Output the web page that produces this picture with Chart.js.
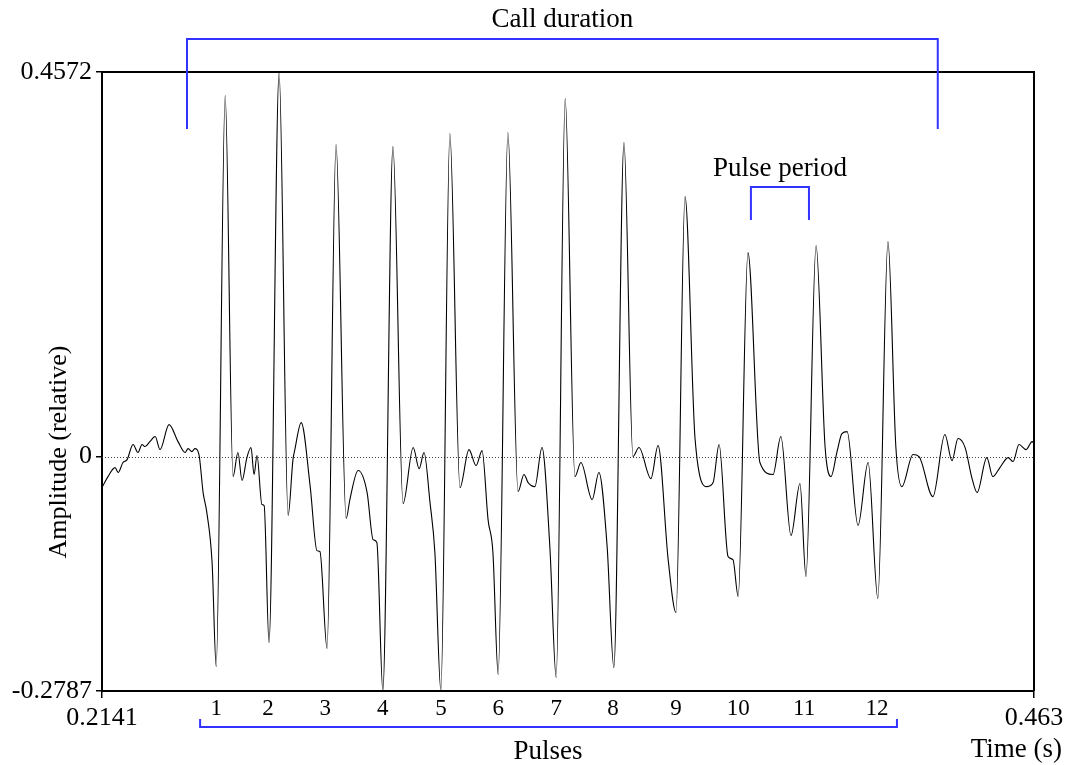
<!DOCTYPE html>
<html>
<head>
<meta charset="utf-8">
<script src="https://cdn.jsdelivr.net/npm/chart.js@4/dist/chart.umd.min.js"></script>
<style>
html,body{margin:0;padding:0;background:#fff;}
#wrap{width:1066px;height:765px;position:relative;}
</style>
</head>
<body>
<div id="wrap"><canvas id="c" width="1066" height="765"></canvas></div>
<script>
// ---- data (time in s, relative amplitude) ----
const times = [0.2142,0.2157,0.2176,0.2184,0.2197,0.2208,0.2224,0.2237,0.2248,0.2256,0.2269,0.2283,0.2296,0.2320,0.2344,0.2363,0.2371,0.2381,0.2389,0.2400,
0.2411,0.2421,0.2435,0.2446,0.2470,0.2491,0.2504,0.2515,0.2528,0.2539,0.2547,0.2555,0.2568,0.2574,0.2587,0.2614,0.2638,0.2651,0.2656,0.2673,
0.2697,0.2715,0.2723,0.2742,0.2766,0.2793,0.2803,0.2825,0.2849,0.2865,0.2875,0.2891,0.2918,0.2945,0.2972,0.2988,0.3001,0.3017,0.3030,0.3046,
0.3070,0.3097,0.3121,0.3140,0.3156,0.3172,0.3185,0.3199,0.3225,0.3252,0.3268,0.3279,0.3297,0.3316,0.3337,0.3354,0.3378,0.3404,0.3420,0.3450,
0.3468,0.3490,0.3508,0.3535,0.3559,0.3575,0.3607,0.3626,0.3653,0.3674,0.3698,0.3725,0.3757,0.3773,0.3789,0.3813,0.3826,0.3840,0.3866,0.3898,
0.3933,0.3954,0.3981,0.4005,0.4021,0.4048,0.4072,0.4088,0.4104,0.4117,0.4131,0.4160,0.4187,0.4213,0.4240,0.4261,0.4277,0.4307,0.4323,0.4360,
0.4392,0.4411,0.4427,0.4446,0.4464,0.4478,0.4504,0.4520,0.4539,0.4561,0.4574,0.4590,0.4609,0.4625,0.4630];
const amps = [-0.0360,-0.0238,-0.0131,-0.0190,-0.0071,-0.0036,0.0143,0.0048,0.0143,0.0119,0.0178,0.0238,0.0083,0.0380,0.0178,0.0048,0.0095,0.0059,0.0095,0.0024,
-0.0428,-0.0666,-0.1260,-0.2497,0.4292,-0.0238,0.0048,-0.0285,-0.0012,0.0107,-0.0214,0.0012,-0.0571,-0.0583,-0.2211,0.4565,-0.0701,-0.0036,0.0083,0.0404,
-0.0357,-0.1118,-0.1129,-0.2283,0.3709,-0.0737,-0.0511,-0.0166,-0.0428,-0.0987,-0.1022,-0.2785,0.3686,-0.0559,0.0107,-0.0143,0.0048,-0.0547,-0.1141,-0.2785,
0.3840,-0.0369,0.0083,-0.0107,0.0071,-0.0749,-0.1141,-0.2592,0.3852,-0.0416,-0.0214,-0.0309,-0.0357,0.0107,-0.1070,-0.2627,0.4256,-0.0238,-0.0071,-0.0511,
-0.0190,-0.1070,-0.2509,0.3733,0.0000,0.0107,-0.0262,0.0131,-0.1225,-0.1855,0.3091,0.0202,-0.0357,-0.0309,0.0143,-0.1189,-0.1225,-0.1664,0.2425,-0.0071,
-0.0214,0.0238,-0.0939,-0.0321,-0.1427,0.2509,0.0119,-0.0238,0.0059,0.0273,0.0297,-0.0820,-0.0071,-0.1688,0.2556,0.0119,-0.0357,0.0024,0.0000,-0.0476,
0.0262,-0.0048,0.0214,0.0107,-0.0250,-0.0428,-0.0012,-0.0238,-0.0131,-0.0012,-0.0059,0.0143,0.0083,0.0178,0.0155];

const xTickValues = [0.2141, 0.463];
const xTickLabels = ['0.2141', '0.463'];
const yTickValues = [-0.2787, 0, 0.4572];
const yTickLabels = ['-0.2787', '0', '0.4572'];

const pulseNames = ['1','2','3','4','5','6','7','8','9','10','11','12'];
const pulseTimes = [0.2446,0.2584,0.2737,0.2891,0.3046,0.3199,0.3354,0.3506,0.3674,0.3840,0.4016,0.4211];

const callSpan = [0.2368, 0.4373];
const periodSpan = [0.3874, 0.4029];
const pulsesSpan = [0.2403, 0.4264];

const FONT = "'Liberation Serif', 'Times New Roman', serif";
const BLUE = '#3333ff';

const points = times.map((t, i) => ({x: t, y: amps[i]}));

const overlay = {
  id: 'overlay',
  beforeDatasetsDraw(chart) {
    const {ctx, chartArea: a, scales: {x, y}} = chart;
    ctx.save();
    ctx.strokeStyle = '#444';
    ctx.lineWidth = 1;
    ctx.setLineDash([1, 2]);
    const y0 = Math.round(y.getPixelForValue(0)) + 0.5;
    ctx.beginPath(); ctx.moveTo(a.left, y0); ctx.lineTo(a.right, y0); ctx.stroke();
    ctx.restore();
  },
  afterDraw(chart) {
    const {ctx, chartArea: a, scales: {x, y}} = chart;
    ctx.save();
    // frame top/right
    ctx.strokeStyle = '#000';
    ctx.lineWidth = 2;
    ctx.beginPath();
    ctx.moveTo(a.left, a.top); ctx.lineTo(a.right, a.top); ctx.lineTo(a.right, a.bottom);
    ctx.stroke();

    // brackets
    ctx.strokeStyle = BLUE;
    ctx.lineWidth = 2;
    const cx1 = x.getPixelForValue(callSpan[0]), cx2 = x.getPixelForValue(callSpan[1]);
    ctx.beginPath();
    ctx.moveTo(cx1, 129); ctx.lineTo(cx1, 39); ctx.lineTo(cx2, 39); ctx.lineTo(cx2, 129);
    ctx.stroke();
    const px1 = x.getPixelForValue(periodSpan[0]), px2 = x.getPixelForValue(periodSpan[1]);
    ctx.beginPath();
    ctx.moveTo(px1, 220); ctx.lineTo(px1, 187); ctx.lineTo(px2, 187); ctx.lineTo(px2, 220);
    ctx.stroke();
    const ux1 = x.getPixelForValue(pulsesSpan[0]), ux2 = x.getPixelForValue(pulsesSpan[1]);
    ctx.beginPath();
    ctx.moveTo(ux1, 719); ctx.lineTo(ux1, 727); ctx.lineTo(ux2, 727); ctx.lineTo(ux2, 719);
    ctx.stroke();

    // texts
    ctx.fillStyle = '#000';
    ctx.textBaseline = 'alphabetic';
    ctx.textAlign = 'center';
    ctx.font = '27px ' + FONT;
    ctx.fillText('Call duration', (cx1 + cx2) / 2, 27);
    ctx.fillText('Pulse period', 780, 176);
    ctx.fillText('Pulses', 548, 759);
    ctx.textAlign = 'right';
    ctx.fillText('Time (s)', 1062, 757);

    ctx.textAlign = 'center';
    ctx.font = '23px ' + FONT;
    pulseNames.forEach((n, i) => {
      ctx.fillText(n, x.getPixelForValue(pulseTimes[i]), 715);
    });

    ctx.translate(66, 452);
    ctx.rotate(-Math.PI / 2);
    ctx.font = '26px ' + FONT;
    ctx.textAlign = 'center';
    ctx.fillText('Amplitude (relative)', 0, 0);
    ctx.restore();
  }
};

new Chart(document.getElementById('c'), {
  type: 'line',
  data: {
    datasets: [{
      data: points,
      borderColor: '#000',
      borderWidth: 1.1,
      pointRadius: 0,
      fill: false,
      cubicInterpolationMode: 'monotone'
    }]
  },
  options: {
    responsive: false,
    animation: false,
    events: [],
    layout: {padding: {top: 72, right: 32, left: 0, bottom: 0}},
    plugins: {legend: {display: false}, tooltip: {enabled: false}},
    scales: {
      x: {
        type: 'linear',
        min: xTickValues[0], max: xTickValues[1],
        afterBuildTicks: s => { s.ticks = xTickValues.map(v => ({value: v})); },
        afterFit: s => { s.height = 74; s.paddingLeft = 0; s.paddingRight = 0; },
        ticks: {
          autoSkip: false, maxRotation: 0, padding: 5,
          color: '#000', font: {family: FONT, size: 26},
          callback: (v) => { const i = xTickValues.indexOf(v); return i >= 0 ? xTickLabels[i] : ''; }
        },
        grid: {display: true, drawOnChartArea: false, drawTicks: true, tickLength: 7, color: '#000', lineWidth: 1.5},
        border: {display: true, color: '#000', width: 2}
      },
      y: {
        type: 'linear',
        min: yTickValues[0], max: yTickValues[2],
        afterBuildTicks: s => { s.ticks = yTickValues.map(v => ({value: v})); },
        afterFit: s => { s.width = 102; s.paddingTop = 0; s.paddingBottom = 0; },
        ticks: {
          autoSkip: false, padding: 4,
          color: '#000', font: {family: FONT, size: 26},
          callback: (v) => { const i = yTickValues.indexOf(v); return i >= 0 ? yTickLabels[i] : ''; }
        },
        grid: {display: true, drawOnChartArea: false, drawTicks: true, tickLength: 6, color: '#000', lineWidth: 1.5},
        border: {display: true, color: '#000', width: 2}
      }
    }
  },
  plugins: [overlay]
});
</script>
</body>
</html>
